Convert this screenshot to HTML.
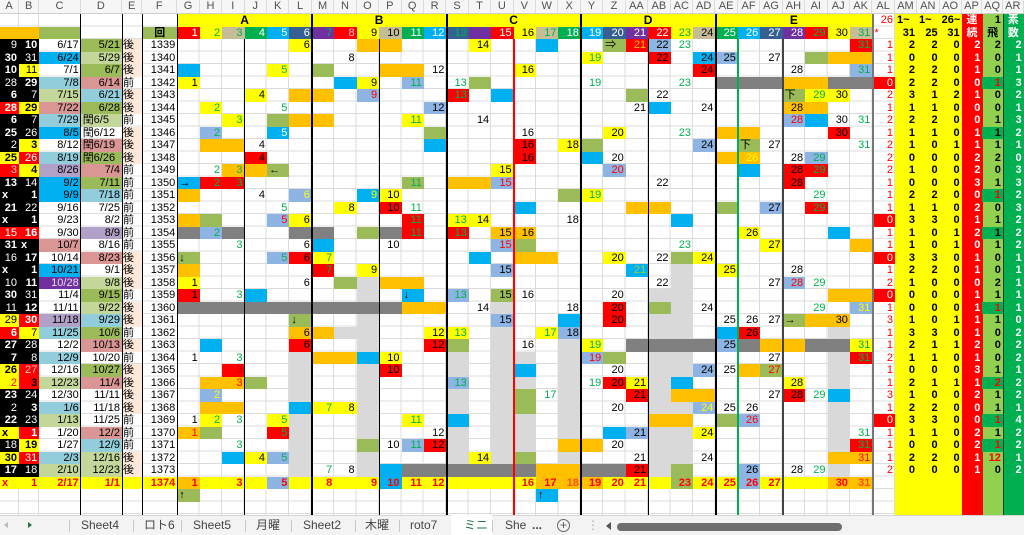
<!DOCTYPE html>
<html><head><meta charset="utf-8"><style>
*{margin:0;padding:0;box-sizing:border-box}
body{width:1024px;height:535px;overflow:hidden;position:relative;background:#fff;font-family:"Liberation Sans","Noto Sans CJK JP",sans-serif;font-size:11px;color:#000}
.hd,.rw{display:grid;grid-template-columns:19px 20.3px 41.4px 41.3px 20.3px 35px repeat(31,22.43px) 22.6px 22px 22.7px 22px 20.7px 20.6px 20.7px}
.hd{position:absolute;left:0;top:0;width:1024px;height:14.3px;background:#f6f6f6;border-bottom:1px solid #cfcfcf}
.hd i{font-style:normal;text-align:center;line-height:13.3px;color:#505050;border-right:1px solid #dcdcdc;font-size:11px;overflow:hidden;white-space:nowrap}
.rows{position:absolute;left:0;top:14.3px;width:1024px}
.rw{height:12.5px;grid-template-rows:12.5px}
.rw i{grid-row:1;font-style:normal;text-align:right;padding-right:2px;line-height:12.5px;white-space:nowrap;overflow:hidden}
.ca{grid-column:1}.cb{grid-column:2}.cc{grid-column:3}.cd{grid-column:4}.ce{grid-column:5;text-align:left!important;padding-left:1px}.cf{grid-column:6}
.k1{grid-column:7}.k2{grid-column:8}.k3{grid-column:9}.k4{grid-column:10}.k5{grid-column:11}.k6{grid-column:12}.k7{grid-column:13}.k8{grid-column:14}.k9{grid-column:15}.k10{grid-column:16}.k11{grid-column:17}.k12{grid-column:18}.k13{grid-column:19}.k14{grid-column:20}.k15{grid-column:21}.k16{grid-column:22}.k17{grid-column:23}.k18{grid-column:24}.k19{grid-column:25}.k20{grid-column:26}.k21{grid-column:27}.k22{grid-column:28}.k23{grid-column:29}.k24{grid-column:30}.k25{grid-column:31}.k26{grid-column:32}.k27{grid-column:33}.k28{grid-column:34}.k29{grid-column:35}.k30{grid-column:36}.k31{grid-column:37}
.cl{grid-column:38;color:#f00}.cm{grid-column:39;font-weight:bold}.cn{grid-column:40;font-weight:bold}.co{grid-column:41;font-weight:bold}.cp{grid-column:42;font-weight:bold;color:#fff}.cq{grid-column:43;font-weight:bold}.cr{grid-column:44;font-weight:bold;color:#fff}
.y{background:#ffff00}.o{background:#ffc000}.g{background:#9bbb59}.s{background:#00b0f0}.l{background:#8db4e2}.rd{background:#ff0000}.d{background:#808080}.w{background:#d9d9d9}.bk{background:#000}.lg{background:#c4d79b}.lb{background:#92cddc}.pk{background:#da9694}.lv{background:#b1a0c7}.pu{background:#7030a0}.pe{background:#fde9d9}.tn{background:#c4bd97}.gr{background:#00b050}.db{background:#366092}
.tg{color:#00b050}.tr{color:#f00}.tw{color:#fff}.ty{color:#ff0}.to{color:#ffc000}.tp{color:#ffc7ce}.tl{color:#92d050}.tv{color:#e4dfec}.tk{color:#000}
.bo{font-weight:bold}.lf{text-align:left!important;padding-left:2px}.ct{text-align:center!important;padding:0!important}
.gh{position:absolute;left:0;top:14.3px;width:895.3px;height:500.7px;background:repeating-linear-gradient(180deg,transparent 0,transparent 11.5px,#dcdcdc 11.5px,#dcdcdc 12.5px)}
.gv{position:absolute;left:177.3px;top:14.3px;width:718px;height:500.7px;background:repeating-linear-gradient(90deg,transparent 0,transparent 21.43px,#dcdcdc 21.43px,#dcdcdc 22.43px)}
.vl{position:absolute;bottom:20px;width:1px;background:#000}
.tb{position:absolute;left:0;top:515px;width:1024px;height:20px;background:#f3f3f3;border-top:1px solid #d6d6d6}
.tb span{position:absolute;top:0;line-height:19px;font-size:12px;color:#444;white-space:nowrap}
.sep{position:absolute;top:4px;width:1px;height:12px;background:#c8c8c8}
</style></head><body>
<div class="gh"></div>
<div class="gv"></div>
<div style="position:absolute;left:18px;top:14.3px;width:1px;height:500.7px;background:#dcdcdc"></div>
<div style="position:absolute;left:38.3px;top:14.3px;width:1px;height:500.7px;background:#dcdcdc"></div>
<div style="position:absolute;left:895.3px;top:14.3px;width:66.7px;height:500.7px;background:#ffff00"></div>
<div style="position:absolute;left:962px;top:14.3px;width:20.7px;height:500.7px;background:#ff0000"></div>
<div style="position:absolute;left:982.7px;top:14.3px;width:20.6px;height:500.7px;background:#92d050"></div>
<div style="position:absolute;left:1003.3px;top:14.3px;width:20.7px;height:500.7px;background:#00b050"></div>

<div class="rows">
<div class="rw"><i class="y ct bo" style="grid-column:7/13;font-size:12px">A</i><i class="y ct bo" style="grid-column:13/19;font-size:12px">B</i><i class="y ct bo" style="grid-column:19/25;font-size:12px">C</i><i class="y ct bo" style="grid-column:25/31;font-size:12px">D</i><i class="y ct bo" style="grid-column:31/38;font-size:12px">E</i><i class="cl">26</i><i class="cm lf">1~</i><i class="cn lf">1~</i><i class="co lf">26~</i><i class="cp ct">連</i><i class="cq">1</i><i class="cr ct">素</i></div>
<div class="rw"><i class="o" style="grid-column:1/3"></i><i class="cc g"></i><i class="cf g ct bo">回</i><i class="k1 rd tw">1</i><i class="k2 y tg">2</i><i class="k3 tn tg">3</i><i class="k4 gr tw">4</i><i class="k5 s tw">5</i><i class="k6 db tw">6</i><i class="k7 pu tg">7</i><i class="k8 rd tp">8</i><i class="k9 y">9</i><i class="k10 tn">10</i><i class="k11 gr tw">11</i><i class="k12 s tw">12</i><i class="k13 db tg">13</i><i class="k14 pu" style="color:#7030a0">14</i><i class="k15 rd tw">15</i><i class="k16 y">16</i><i class="k17 tn tg">17</i><i class="k18 gr tw">18</i><i class="k19 s tw">19</i><i class="k20 db tw">20</i><i class="k21 pu tw">21</i><i class="k22 rd tw">22</i><i class="k23 y tg">23</i><i class="k24 tn">24</i><i class="k25 gr tw">25</i><i class="k26 s tw">26</i><i class="k27 db tw">27</i><i class="k28 pu tw">28</i><i class="k29 rd tg">29</i><i class="k30 y">30</i><i class="k31 tn tg">31</i><i class="cl lf">*</i><i class="cm">31</i><i class="cn">25</i><i class="co">31</i><i class="cp ct">続</i><i class="cq ct">飛</i><i class="cr ct">数</i></div>

<div class="rw"><i class="ca bk tw">9</i><i class="cb bk tw bo">10</i><i class="cc">6/17</i><i class="cd g">5/21</i><i class="ce pe">後</i><i class="cf">1339</i><i class="k6 y">6</i><i class="k9 o"></i><i class="k10 o"></i><i class="k14 y">14</i><i class="k17 s"></i><i class="k20 g lf">⇒</i><i class="k21 rd to">21</i><i class="k22 l">22</i><i class="k23 tg">23</i><i class="k31 rd tg">31</i><i class="cl">1</i><i class="cm">2</i><i class="cn">2</i><i class="co">0</i><i class="cp">2</i><i class="cq">2</i><i class="cr">2</i></div>
<div class="rw"><i class="ca bk tw bo">30</i><i class="cb bk tw">31</i><i class="cc s">6/24</i><i class="cd lg">5/29</i><i class="ce pe">後</i><i class="cf">1340</i><i class="k8">8</i><i class="k19 y tg">19</i><i class="k22 rd">22</i><i class="k24 s">24</i><i class="k25 l">25</i><i class="k27">27</i><i class="k29 g"></i><i class="k30 o"></i><i class="k31 o"></i><i class="cl">1</i><i class="cm">0</i><i class="cn">0</i><i class="co">0</i><i class="cp">1</i><i class="cq">0</i><i class="cr">1</i></div>
<div class="rw"><i class="ca bk tw bo">10</i><i class="cb y">11</i><i class="cc">7/1</i><i class="cd g">6/7</i><i class="ce pe">後</i><i class="cf">1341</i><i class="k1 s"></i><i class="k5 y tg">5</i><i class="k7 g"></i><i class="k10 o"></i><i class="k11 o"></i><i class="k12">12</i><i class="k16 y">16</i><i class="k24 rd">24</i><i class="k28">28</i><i class="k31 l tg">31</i><i class="cl">1</i><i class="cm">2</i><i class="cn">2</i><i class="co">0</i><i class="cp">1</i><i class="cq">0</i><i class="cr">1</i></div>
<div class="rw"><i class="ca bk tw">28</i><i class="cb bk tw bo">29</i><i class="cc lb">7/8</i><i class="cd pk">6/14</i><i class="ce">前</i><i class="cf">1342</i><i class="k1 y">1</i><i class="k8 s"></i><i class="k9 y">9</i><i class="k11 l tg">11</i><i class="k13 tg">13</i><i class="k14 g"></i><i class="k19 tg">19</i><i class="k23 tg">23</i><i class="d" style="grid-column:31/34"></i><i class="k28 o"></i><i class="k29 o"></i><i class="k30 d"></i><i class="k31 d"></i><i class="cl rd tw">0</i><i class="cm">2</i><i class="cn">2</i><i class="co">0</i><i class="cp">0</i><i class="cq gr tr">1</i><i class="cr">3</i></div>
<div class="rw"><i class="ca bk tw bo">6</i><i class="cb bk tw">7</i><i class="cc lg">7/15</i><i class="cd lb">6/21</i><i class="ce pe">後</i><i class="cf">1343</i><i class="k4 y">4</i><i class="k6 o"></i><i class="k7 o"></i><i class="k9 l tr">9</i><i class="k13 rd tg">13</i><i class="k15 s"></i><i class="k21 g"></i><i class="k22">22</i><i class="k28 g lf">下</i><i class="k29 y tg">29</i><i class="k30 y">30</i><i class="cl">2</i><i class="cm">3</i><i class="cn">1</i><i class="co">2</i><i class="cp">1</i><i class="cq">0</i><i class="cr">2</i></div>
<div class="rw"><i class="ca rd tw bo">28</i><i class="cb y bo">29</i><i class="cc pk">7/22</i><i class="cd g">6/28</i><i class="ce pe">後</i><i class="cf">1344</i><i class="k2 y tg">2</i><i class="k5 tg">5</i><i class="k12 l">12</i><i class="k21">21</i><i class="k22 s"></i><i class="k24">24</i><i class="k28 o">28</i><i class="k29 o"></i><i class="cl">1</i><i class="cm">1</i><i class="cn">1</i><i class="co">0</i><i class="cp">0</i><i class="cq">0</i><i class="cr">1</i></div>
<div class="rw"><i class="ca bk tw bo">6</i><i class="cb bk tw">7</i><i class="cc lb">7/29</i><i class="cd lg lf">閏6/5</i><i class="ce">前</i><i class="cf">1345</i><i class="k3 y tg">3</i><i class="k5 g"></i><i class="k6 o"></i><i class="k7 o"></i><i class="k11 y tg">11</i><i class="k14">14</i><i class="k28 l tr">28</i><i class="k29 s"></i><i class="k30">30</i><i class="k31 tg">31</i><i class="cl">2</i><i class="cm">2</i><i class="cn">2</i><i class="co">0</i><i class="cp">0</i><i class="cq">1</i><i class="cr">3</i></div>
<div class="rw"><i class="ca bk tw bo">25</i><i class="cb bk tw">26</i><i class="cc s">8/5</i><i class="cd lf">閏6/12</i><i class="ce pe">後</i><i class="cf">1346</i><i class="k2 l tg">2</i><i class="k5 s tw">5</i><i class="k12 g"></i><i class="k16">16</i><i class="k20 y">20</i><i class="k23 tg">23</i><i class="k25 o"></i><i class="k26 o"></i><i class="k30 rd">30</i><i class="cl">1</i><i class="cm">1</i><i class="cn">1</i><i class="co">0</i><i class="cp">1</i><i class="cq gr">1</i><i class="cr">2</i></div>
<div class="rw"><i class="ca bk tw">2</i><i class="cb y bo">3</i><i class="cc">8/12</i><i class="cd pk lf">閏6/19</i><i class="ce pe">後</i><i class="cf">1347</i><i class="k2 o"></i><i class="k3 o"></i><i class="k4">4</i><i class="k12 s"></i><i class="k16 rd">16</i><i class="k18 y">18</i><i class="k19 g"></i><i class="k24 l">24</i><i class="k26 g lf">下</i><i class="k27">27</i><i class="k31 tg">31</i><i class="cl">2</i><i class="cm">1</i><i class="cn">0</i><i class="co">1</i><i class="cp">1</i><i class="cq">1</i><i class="cr">1</i></div>
<div class="rw"><i class="ca y bo">25</i><i class="cb rd tw">26</i><i class="cc lb">8/19</i><i class="cd g lf">閏6/26</i><i class="ce pe">後</i><i class="cf">1348</i><i class="k4 rd">4</i><i class="k16 rd">16</i><i class="k19 s"></i><i class="k20">20</i><i class="k25 o"></i><i class="k26 o ty">26</i><i class="k28">28</i><i class="k29 l tg">29</i><i class="cl">2</i><i class="cm">0</i><i class="cn">0</i><i class="co">0</i><i class="cp">2</i><i class="cq">2</i><i class="cr">0</i></div>
<div class="rw"><i class="ca rd tp">3</i><i class="cb y bo">4</i><i class="cc lv">8/26</i><i class="cd pk">7/4</i><i class="ce">前</i><i class="cf">1349</i><i class="k2 tg">2</i><i class="k3 o tg">3</i><i class="k4 o"></i><i class="k5 g lf">←</i><i class="k15 y">15</i><i class="k20 l tr">20</i><i class="k26 s"></i><i class="k28 rd">28</i><i class="k29 rd tg">29</i><i class="cl">2</i><i class="cm">1</i><i class="cn">0</i><i class="co">0</i><i class="cp">2</i><i class="cq">0</i><i class="cr">3</i></div>
<div class="rw"><i class="ca bk tw bo">13</i><i class="cb bk tw">14</i><i class="cc s">9/2</i><i class="cd g">7/11</i><i class="ce">前</i><i class="cf">1350</i><i class="k1 s lf">→</i><i class="k2 rd tg">2</i><i class="k3 rd tg">3</i><i class="k11 g tg">11</i><i class="k13 o"></i><i class="k14 o"></i><i class="k15 l tr">15</i><i class="k22">22</i><i class="k28 rd">28</i><i class="cl">1</i><i class="cm">0</i><i class="cn">0</i><i class="co">0</i><i class="cp">3</i><i class="cq">1</i><i class="cr">3</i></div>
<div class="rw"><i class="ca bk tw bo lf">x</i><i class="cb bk tw bo">1</i><i class="cc s">9/9</i><i class="cd lb">7/18</i><i class="ce">前</i><i class="cf">1351</i><i class="k1 o"></i><i class="k4">4</i><i class="k6 l ty">6</i><i class="k9 s ty">9</i><i class="k10 y">10</i><i class="k18 g"></i><i class="k19 y tg">19</i><i class="k29 tg">29</i><i class="cl">1</i><i class="cm">2</i><i class="cn">2</i><i class="co">0</i><i class="cp">0</i><i class="cq gr tr">1</i><i class="cr">2</i></div>
<div class="rw"><i class="ca bk tw bo">21</i><i class="cb bk tw">22</i><i class="cc">9/16</i><i class="cd">7/25</i><i class="ce">前</i><i class="cf">1352</i><i class="k5 tg">5</i><i class="k8 y">8</i><i class="k10 rd">10</i><i class="k11 tg">11</i><i class="k16 s"></i><i class="k21 o"></i><i class="k22 o"></i><i class="k25 g"></i><i class="k27 l">27</i><i class="k29 rd tg">29</i><i class="cl">1</i><i class="cm">1</i><i class="cn">1</i><i class="co">0</i><i class="cp">2</i><i class="cq">0</i><i class="cr">3</i></div>
<div class="rw"><i class="ca bk tw bo lf">x</i><i class="cb bk tw bo">1</i><i class="cc">9/23</i><i class="cd">8/2</i><i class="ce">前</i><i class="cf">1353</i><i class="k1 o"></i><i class="k2 g"></i><i class="k5 l tr">5</i><i class="k6 y">6</i><i class="k11 rd tg">11</i><i class="k13 y tg">13</i><i class="k14 y">14</i><i class="k18">18</i><i class="k23 s"></i><i class="cl rd tw">0</i><i class="cm">3</i><i class="cn">3</i><i class="co">0</i><i class="cp">1</i><i class="cq">1</i><i class="cr">2</i></div>
<div class="rw"><i class="ca rd tw">15</i><i class="cb rd tw bo">16</i><i class="cc">9/30</i><i class="cd lv">8/9</i><i class="ce">前</i><i class="cf">1354</i><i class="k1 d"></i><i class="k2 l tg">2</i><i class="k3 d"></i><i class="k6 d"></i><i class="k7 d"></i><i class="k9 g"></i><i class="k10 d"></i><i class="k11 rd tg">11</i><i class="k13 rd tg">13</i><i class="k15 o">15</i><i class="k16 o">16</i><i class="k26 y">26</i><i class="k30 s"></i><i class="cl">1</i><i class="cm">1</i><i class="cn">0</i><i class="co">1</i><i class="cp">2</i><i class="cq gr">1</i><i class="cr">2</i></div>
<div class="rw"><i class="ca bk tw bo">31</i><i class="cb bk tw bo lf">x</i><i class="cc pk">10/7</i><i class="cd">8/16</i><i class="ce">前</i><i class="cf">1355</i><i class="k3 tg">3</i><i class="k6">6</i><i class="k7 s"></i><i class="k10">10</i><i class="k15 l tr">15</i><i class="k16 g"></i><i class="k23 tg">23</i><i class="k27 y">27</i><i class="k31 o"></i><i class="cl">1</i><i class="cm">1</i><i class="cn">0</i><i class="co">1</i><i class="cp">0</i><i class="cq">1</i><i class="cr">2</i></div>
<div class="rw"><i class="ca bk tw">16</i><i class="cb bk tw bo">17</i><i class="cc">10/14</i><i class="cd pk">8/23</i><i class="ce pe">後</i><i class="cf">1356</i><i class="k1 g lf">↓</i><i class="k5 l tg">5</i><i class="k6 rd">6</i><i class="k7 y tg">7</i><i class="k14 s"></i><i class="k16 o"></i><i class="k17 o"></i><i class="k20 y">20</i><i class="k22">22</i><i class="k23 g"></i><i class="k24 y">24</i><i class="cl rd tw">0</i><i class="cm">3</i><i class="cn">3</i><i class="co">0</i><i class="cp">1</i><i class="cq">0</i><i class="cr">1</i></div>
<div class="rw"><i class="ca bk tw bo lf">x</i><i class="cb bk tw bo">1</i><i class="cc s">10/21</i><i class="cd">9/1</i><i class="ce pe">後</i><i class="cf">1357</i><i class="k1 o"></i><i class="k7 rd tg">7</i><i class="k9 y">9</i><i class="k15 l">15</i><i class="k21 s tl">21</i><i class="k23 w"></i><i class="k25 y">25</i><i class="k28">28</i><i class="cl">1</i><i class="cm">2</i><i class="cn">2</i><i class="co">0</i><i class="cp">1</i><i class="cq">0</i><i class="cr">1</i></div>
<div class="rw"><i class="ca bk tw">10</i><i class="cb bk tw bo">11</i><i class="cc pu tv">10/28</i><i class="cd lg">9/8</i><i class="ce pe">後</i><i class="cf">1358</i><i class="k1 y">1</i><i class="k6">6</i><i class="k8 g"></i><i class="k9 w"></i><i class="k10 o"></i><i class="k11 o"></i><i class="k22">22</i><i class="k23 w"></i><i class="k27">27</i><i class="k28 l tr">28</i><i class="k29 tg">29</i><i class="cl">2</i><i class="cm">1</i><i class="cn">0</i><i class="co">0</i><i class="cp">0</i><i class="cq">2</i><i class="cr">1</i></div>
<div class="rw"><i class="ca bk tw bo">30</i><i class="cb bk tw">31</i><i class="cc">11/4</i><i class="cd g">9/15</i><i class="ce">前</i><i class="cf">1359</i><i class="k1 rd">1</i><i class="k3 tg">3</i><i class="k4 s"></i><i class="k9 w"></i><i class="k11 s lf">↓</i><i class="k13 l tg">13</i><i class="k15 g">15</i><i class="k16">16</i><i class="k20">20</i><i class="k22 w"></i><i class="k23 w"></i><i class="k30 o"></i><i class="k31 o"></i><i class="cl rd tw">0</i><i class="cm">0</i><i class="cn">0</i><i class="co">0</i><i class="cp">1</i><i class="cq">1</i><i class="cr">1</i></div>
<div class="rw"><i class="ca bk tw">11</i><i class="cb bk tw bo">12</i><i class="cc">11/11</i><i class="cd lg">9/22</i><i class="ce pe">後</i><i class="cf">1360</i><i class="d" style="grid-column:7/17"></i><i class="k11 o"></i><i class="k12 o"></i><i class="k14">14</i><i class="k15 w"></i><i class="k18">18</i><i class="k20 rd">20</i><i class="k22 g"></i><i class="k23 w"></i><i class="k24">24</i><i class="k29 tg">29</i><i class="k31 l ty">31</i><i class="cl">1</i><i class="cm">0</i><i class="cn">0</i><i class="co">0</i><i class="cp">1</i><i class="cq gr tr">1</i><i class="cr">1</i></div>
<div class="rw"><i class="ca y">29</i><i class="cb rd tw bo">30</i><i class="cc lv">11/18</i><i class="cd lb">9/29</i><i class="ce pe">後</i><i class="cf">1361</i><i class="k6 g lf">↓</i><i class="k9 w"></i><i class="k15 l">15</i><i class="k18 s"></i><i class="k20 rd">20</i><i class="k22 w"></i><i class="k23 w"></i><i class="k25">25</i><i class="k26">26</i><i class="k27">27</i><i class="k28 g lf">→</i><i class="k29 o"></i><i class="k30 o">30</i><i class="cl">3</i><i class="cm">1</i><i class="cn">0</i><i class="co">1</i><i class="cp">1</i><i class="cq">1</i><i class="cr">0</i></div>
<div class="rw"><i class="ca rd tw bo">6</i><i class="cb y">7</i><i class="cc lb">11/25</i><i class="cd g">10/6</i><i class="ce">前</i><i class="cf">1362</i><i class="k6 o">6</i><i class="k7 o"></i><i class="k8 w"></i><i class="k9 w"></i><i class="k12 y">12</i><i class="k13 y tg">13</i><i class="k15 w"></i><i class="k17 y tg">17</i><i class="k18 l">18</i><i class="k22 w"></i><i class="k23 w"></i><i class="k25 s"></i><i class="k26 rd">26</i><i class="k30 w"></i><i class="cl">1</i><i class="cm">3</i><i class="cn">3</i><i class="co">0</i><i class="cp">1</i><i class="cq">0</i><i class="cr">2</i></div>
<div class="rw"><i class="ca bk tw bo">27</i><i class="cb bk tw">28</i><i class="cc">12/2</i><i class="cd pk">10/13</i><i class="ce pe">後</i><i class="cf">1363</i><i class="k2 s"></i><i class="k6 rd">6</i><i class="k9 w"></i><i class="k12 rd">12</i><i class="k13 g"></i><i class="k15 w"></i><i class="k16">16</i><i class="k18 w"></i><i class="k19 y tg">19</i><i class="d" style="grid-column:27/31"></i><i class="k25 l">25</i><i class="k26 d"></i><i class="k27 o"></i><i class="k28 o"></i><i class="k29 d"></i><i class="k30 d"></i><i class="k31 y tg">31</i><i class="cl">1</i><i class="cm">2</i><i class="cn">1</i><i class="co">1</i><i class="cp">2</i><i class="cq">0</i><i class="cr">2</i></div>
<div class="rw"><i class="ca bk tw bo">7</i><i class="cb bk tw">8</i><i class="cc lb">12/9</i><i class="cd">10/20</i><i class="ce">前</i><i class="cf">1364</i><i class="k1">1</i><i class="k3 tg">3</i><i class="k6 w"></i><i class="k7 o"></i><i class="k8 o"></i><i class="k9 s"></i><i class="k10 y">10</i><i class="k13 w"></i><i class="k15 w"></i><i class="k16 w"></i><i class="k18 w"></i><i class="k19 l tr">19</i><i class="k20 g"></i><i class="k22 w"></i><i class="k23 w"></i><i class="k27">27</i><i class="k30 w"></i><i class="k31 rd tg">31</i><i class="cl">2</i><i class="cm">1</i><i class="cn">1</i><i class="co">0</i><i class="cp">1</i><i class="cq">0</i><i class="cr">2</i></div>
<div class="rw"><i class="ca y bo">26</i><i class="cb rd tp">27</i><i class="cc">12/16</i><i class="cd g">10/27</i><i class="ce pe">後</i><i class="cf">1365</i><i class="k3 rd" style="color:#c00000">3</i><i class="k6 w"></i><i class="k9 w"></i><i class="k10 rd">10</i><i class="k13 w"></i><i class="k15 w"></i><i class="k16 s"></i><i class="k18 w"></i><i class="k20">20</i><i class="k22 w"></i><i class="k23 w"></i><i class="k24 l">24</i><i class="k25">25</i><i class="k26 o"></i><i class="k27 g tr">27</i><i class="k30 w"></i><i class="cl">1</i><i class="cm">0</i><i class="cn">0</i><i class="co">0</i><i class="cp">3</i><i class="cq">1</i><i class="cr">1</i></div>
<div class="rw"><i class="ca y tr">2</i><i class="cb rd bo">3</i><i class="cc lg">12/23</i><i class="cd pk">11/4</i><i class="ce pe">後</i><i class="cf">1366</i><i class="k2 o"></i><i class="k3 o tr">3</i><i class="k4 g"></i><i class="k6 w"></i><i class="k9 w"></i><i class="k13 l tg">13</i><i class="k15 w"></i><i class="k16 w"></i><i class="k18 w"></i><i class="k19 tg">19</i><i class="k20 rd">20</i><i class="k21 y">21</i><i class="k22 w"></i><i class="k23 s"></i><i class="k28 y">28</i><i class="k30 w"></i><i class="cl">1</i><i class="cm">2</i><i class="cn">1</i><i class="co">1</i><i class="cp">1</i><i class="cq gr tr">2</i><i class="cr">2</i></div>
<div class="rw"><i class="ca bk tw bo">23</i><i class="cb bk tw">24</i><i class="cc">12/30</i><i class="cd">11/11</i><i class="ce pe">後</i><i class="cf">1367</i><i class="k2 l ty">2</i><i class="k6 w"></i><i class="k9 w"></i><i class="k13 w"></i><i class="k15 w"></i><i class="k16 g"></i><i class="k17 tg">17</i><i class="k18 w"></i><i class="k21 rd">21</i><i class="k22 w"></i><i class="k23 o"></i><i class="k24 o"></i><i class="k27">27</i><i class="k28 rd">28</i><i class="k29 tg">29</i><i class="k30 s"></i><i class="cl">3</i><i class="cm">1</i><i class="cn">0</i><i class="co">0</i><i class="cp">2</i><i class="cq">1</i><i class="cr">2</i></div>
<div class="rw"><i class="ca bk tw">2</i><i class="cb bk tw bo">3</i><i class="cc lb">1/6</i><i class="cd">11/18</i><i class="ce pe">後</i><i class="cf">1368</i><i class="k2 o"></i><i class="k3 o"></i><i class="k6 s"></i><i class="k7 y tg">7</i><i class="k8 y">8</i><i class="k9 w"></i><i class="k13 w"></i><i class="k15 w"></i><i class="k16 g"></i><i class="k18 w"></i><i class="k20">20</i><i class="k22 w"></i><i class="k23 w"></i><i class="k24 l ty">24</i><i class="k25">25</i><i class="k26">26</i><i class="k30 w"></i><i class="cl">1</i><i class="cm">2</i><i class="cn">2</i><i class="co">0</i><i class="cp">0</i><i class="cq">1</i><i class="cr">1</i></div>
<div class="rw"><i class="ca bk tw bo">22</i><i class="cb bk tw">23</i><i class="cc lg">1/13</i><i class="cd">11/25</i><i class="ce">前</i><i class="cf">1369</i><i class="k1">1</i><i class="k2 y tg">2</i><i class="k3 tg">3</i><i class="k5 y tg">5</i><i class="k6 w"></i><i class="k9 w"></i><i class="k11 y tg">11</i><i class="k13 s"></i><i class="k15 w"></i><i class="k16 w"></i><i class="k18 w"></i><i class="k22 o"></i><i class="k23 o"></i><i class="k25 g"></i><i class="k26 l tr">26</i><i class="k30 w"></i><i class="cl rd tw">0</i><i class="cm">3</i><i class="cn">3</i><i class="co">0</i><i class="cp">0</i><i class="cq gr tr">1</i><i class="cr">4</i></div>
<div class="rw"><i class="ca y bo lf">x</i><i class="cb rd tw bo">1</i><i class="cc">1/20</i><i class="cd pk">12/2</i><i class="ce">前</i><i class="cf">1370</i><i class="k1 o tr">1</i><i class="k2 g"></i><i class="k5 rd tg">5</i><i class="k6 w"></i><i class="k9 w"></i><i class="k12">12</i><i class="k13 w"></i><i class="k15 w"></i><i class="k16 w"></i><i class="k18 w"></i><i class="k20 s"></i><i class="k21 l">21</i><i class="k22 w"></i><i class="k23 w"></i><i class="k24 y">24</i><i class="k30 w"></i><i class="k31 tg">31</i><i class="cl">1</i><i class="cm">1</i><i class="cn">1</i><i class="co">0</i><i class="cp">2</i><i class="cq">1</i><i class="cr">2</i></div>
<div class="rw"><i class="ca bk tw">18</i><i class="cb y bo">19</i><i class="cc">1/27</i><i class="cd lb">12/9</i><i class="ce">前</i><i class="cf">1371</i><i class="k3 tg">3</i><i class="k6 w"></i><i class="k9 g"></i><i class="k10">10</i><i class="k11 l tg">11</i><i class="k12 rd">12</i><i class="k13 w"></i><i class="k15 w"></i><i class="k16 w"></i><i class="k18 o"></i><i class="k19 o"></i><i class="k20">20</i><i class="k22 w"></i><i class="k23 w"></i><i class="k30 w"></i><i class="k31 rd tg">31</i><i class="cl">1</i><i class="cm">0</i><i class="cn">0</i><i class="co">0</i><i class="cp">2</i><i class="cq gr tr">1</i><i class="cr">2</i></div>
<div class="rw"><i class="ca y bo">30</i><i class="cb rd tw">31</i><i class="cc lb">2/3</i><i class="cd lg">12/16</i><i class="ce pe">後</i><i class="cf">1372</i><i class="k3 s"></i><i class="k4 y">4</i><i class="k5 l tg">5</i><i class="k6 w"></i><i class="k9 w"></i><i class="k13 w"></i><i class="k14 y">14</i><i class="k15 w"></i><i class="k16 g"></i><i class="k18 w"></i><i class="k21">21</i><i class="k22 w"></i><i class="k23 w"></i><i class="k24">24</i><i class="k30 o"></i><i class="k31 o tr">31</i><i class="cl">1</i><i class="cm">2</i><i class="cn">2</i><i class="co">0</i><i class="cp">1</i><i class="cq tr">12</i><i class="cr">1</i></div>
<div class="rw"><i class="ca bk tw bo">17</i><i class="cb bk tw">18</i><i class="cc lg">2/10</i><i class="cd lg">12/23</i><i class="ce pe">後</i><i class="cf">1373</i><i class="k6 w"></i><i class="k7 tg">7</i><i class="k8">8</i><i class="k9 w"></i><i class="k10 s"></i><i class="d" style="grid-column:17/23"></i><i class="k17 o"></i><i class="k18 o"></i><i class="k19 d"></i><i class="k20 d"></i><i class="k21 rd">21</i><i class="k22 w"></i><i class="k23 g"></i><i class="k26 l">26</i><i class="k28">28</i><i class="k29 tg">29</i><i class="k30 w"></i><i class="cl">2</i><i class="cm">0</i><i class="cn">0</i><i class="co">0</i><i class="cp">1</i><i class="cq">0</i><i class="cr">2</i></div>
<div class="rw"><i class="y" style="grid-column:1/38"></i><i class="ca tr bo lf">x</i><i class="cb tr bo">1</i><i class="cc tr bo">2/17</i><i class="cd tr bo">1/1</i><i class="cf tr bo">1374</i><i class="k1 o tr bo">1</i><i class="k3 tr bo">3</i><i class="k5 l tr bo">5</i><i class="k7 tr bo">8</i><i class="k9 tr bo">9</i><i class="k10 s tr bo">10</i><i class="k11 tr bo">11</i><i class="k12 tr bo">12</i><i class="k16 tr bo">16</i><i class="k17 o tr bo">17</i><i class="k18 o bo" style="color:#ff5000">18</i><i class="k19 o tr bo">19</i><i class="k20 tr bo">20</i><i class="k21 tr bo">21</i><i class="k23 g tr bo">23</i><i class="k24 tr bo">24</i><i class="k25 tr bo">25</i><i class="k26 l tr bo">26</i><i class="k27 tr bo">27</i><i class="k30 o tr bo">30</i><i class="k31 o bo" style="color:#ff5000">31</i></div>
<div class="rw"><i class="k1 g lf">↑</i><i class="k17 s lf">↑</i></div>
<div class="rw"></div>
</div>

<div class="vl" style="left:80.2px;top:14.3px"></div>
<div class="vl" style="left:121.5px;top:14.3px"></div>
<div class="vl" style="left:141.8px;top:14.3px"></div>
<div class="vl" style="left:176.8px;top:14.3px"></div>
<div class="vl" style="left:244.1px;top:39.3px"></div>
<div class="vl" style="left:310.9px;top:14.3px;width:2px"></div>
<div class="vl" style="left:378.7px;top:39.3px"></div>
<div class="vl" style="left:445.5px;top:14.3px;width:2px"></div>
<div class="vl" style="left:512.8px;top:39.3px;width:2px;background:#ff0000"></div>
<div class="vl" style="left:580px;top:14.3px;width:2px"></div>
<div class="vl" style="left:647.8px;top:39.3px"></div>
<div class="vl" style="left:714.6px;top:14.3px;width:2px"></div>
<div class="vl" style="left:737px;top:39.3px;width:2px;background:#00b050"></div>
<div class="vl" style="left:782.2px;top:39.3px;width:1.5px;background:#444"></div>
<div class="vl" style="left:871.6px;top:14.3px;width:2px;background:#777"></div>
<div class="vl" style="left:1002.8px;top:14.3px;background:#333"></div>

<div class="hd"><i>A</i><i>B</i><i>C</i><i>D</i><i>E</i><i>F</i><i>G</i><i>H</i><i>I</i><i>J</i><i>K</i><i>L</i><i>M</i><i>N</i><i>O</i><i>P</i><i>Q</i><i>R</i><i>S</i><i>T</i><i>U</i><i>V</i><i>W</i><i>X</i><i>Y</i><i>Z</i><i>AA</i><i>AB</i><i>AC</i><i>AD</i><i>AE</i><i>AF</i><i>AG</i><i>AH</i><i>AI</i><i>AJ</i><i>AK</i><i>AL</i><i>AM</i><i>AN</i><i>AO</i><i>AP</i><i>AQ</i><i>AR</i></div>

<div class="tb">
<div style="position:absolute;left:4px;top:6px;width:0;height:0;border-right:4px solid #bbb;border-top:3.5px solid transparent;border-bottom:3.5px solid transparent"></div>
<div style="position:absolute;left:28px;top:6px;width:0;height:0;border-left:4px solid #217346;border-top:3.5px solid transparent;border-bottom:3.5px solid transparent"></div>
<div class="sep" style="left:69px"></div>
<span style="left:81px">Sheet4</span>
<div class="sep" style="left:133px"></div>
<span style="left:144px">ロト6</span>
<div class="sep" style="left:180.6px"></div>
<span style="left:193px">Sheet5</span>
<div class="sep" style="left:245px"></div>
<span style="left:256px">月曜</span>
<div class="sep" style="left:290.5px"></div>
<span style="left:303px">Sheet2</span>
<div class="sep" style="left:354.5px"></div>
<span style="left:365px">木曜</span>
<div class="sep" style="left:399px"></div>
<span style="left:410px">roto7</span>
<div style="position:absolute;left:450.6px;top:-1px;width:41.4px;height:20px;background:#fff"></div>
<span style="left:464px;color:#217346">ミニ</span>
<div class="sep" style="left:492px"></div>
<span style="left:505px">She</span>
<span style="left:532px;font-weight:bold">...</span>
<div style="position:absolute;left:557px;top:3px;width:13px;height:13px;border:1px solid #666;border-radius:50%;text-align:center;line-height:11px;font-size:12px;color:#555">+</div>
<span style="left:587px;color:#aaa">⋮</span>
<div style="position:absolute;left:606px;top:6px;width:0;height:0;border-right:5px solid #555;border-top:4px solid transparent;border-bottom:4px solid transparent"></div>
<div style="position:absolute;left:617px;top:7px;width:225px;height:8px;background:#6e6e6e;border-radius:4px"></div>
</div>
</body></html>
